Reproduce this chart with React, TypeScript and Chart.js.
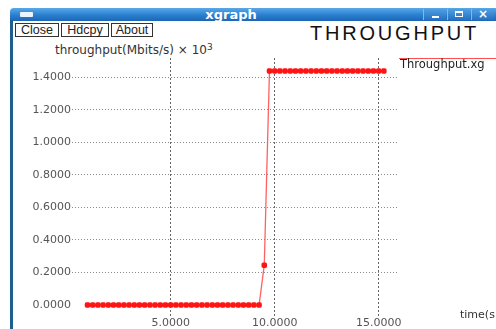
import React, { useEffect, useRef } from "react";
import { Chart, registerables } from "chart.js";

Chart.register(...registerables);

// time (s)
const times = [
  1.0, 1.25, 1.5, 1.75, 2.0, 2.25, 2.5, 2.75, 3.0, 3.25, 3.5, 3.75, 4.0, 4.25, 4.5, 4.75,
  5.0, 5.25, 5.5, 5.75, 6.0, 6.25, 6.5, 6.75, 7.0, 7.25, 7.5, 7.75, 8.0, 8.25, 8.5, 8.75,
  9.0, 9.25, 9.5, 9.75, 10.0, 10.25, 10.5, 10.75, 11.0, 11.25, 11.5, 11.75, 12.0, 12.25,
  12.5, 12.75, 13.0, 13.25, 13.5, 13.75, 14.0, 14.25, 14.5, 14.75, 15.0, 15.25,
];
// throughput (Mbits/s x 10^3)
const throughput = [
  0, 0, 0, 0, 0, 0, 0, 0, 0, 0, 0, 0, 0, 0, 0, 0,
  0, 0, 0, 0, 0, 0, 0, 0, 0, 0, 0, 0, 0, 0, 0, 0,
  0, 0, 0.245, 1.44, 1.44, 1.44, 1.44, 1.44, 1.44, 1.44, 1.44, 1.44, 1.44, 1.44,
  1.44, 1.44, 1.44, 1.44, 1.44, 1.44, 1.44, 1.44, 1.44, 1.44, 1.44, 1.44,
];
const xTicks = [5, 10, 15];
const yTicks = [0, 0.2, 0.4, 0.6, 0.8, 1.0, 1.2, 1.4];

const seriesName = "Throughput.xg";
const titleText = "THROUGHPUT";
const yAxisTitle = "throughput(Mbits/s) \u00d7 10";
const xAxisTitle = "time(s";

const tickFont = { family: "DejaVu Sans", size: 11 };

export default function App() {
  const ref = useRef<HTMLCanvasElement | null>(null);

  useEffect(() => {
    if (!ref.current) return;
    const chart = new Chart(ref.current, {
      type: "line",
      data: {
        datasets: [
          {
            label: seriesName,
            data: times.map((t, i) => ({ x: t, y: throughput[i] })),
            borderColor: "rgba(255,70,70,0.85)",
            borderWidth: 1.3,
            pointBackgroundColor: "#ff1414",
            pointBorderColor: "#ff1414",
            pointBorderWidth: 0,
            pointRadius: 3.2,
            pointStyle: "rectRounded",
            tension: 0,
          },
        ],
      },
      options: {
        animation: false,
        responsive: false,
        maintainAspectRatio: false,
        layout: { padding: { left: 0, top: 58, right: 98, bottom: 0 } },
        plugins: { legend: { display: false }, tooltip: { enabled: false } },
        scales: {
          x: {
            type: "linear",
            min: 0.255,
            max: 15.93,
            afterBuildTicks: (s: any) => {
              s.ticks = xTicks.map((v) => ({ value: v }));
            },
            afterFit: (s: any) => {
              s.height = 12;
            },
            grid: { color: "#666", lineWidth: 1, drawTicks: false },
            border: { display: false, dash: [2, 2] },
            ticks: {
              callback: (v: any) => Number(v).toFixed(4),
              font: tickFont,
              color: "#555",
              padding: 0,
              maxRotation: 0,
              autoSkip: false,
            },
          },
          y: {
            type: "linear",
            min: -0.074,
            max: 1.52,
            afterBuildTicks: (s: any) => {
              s.ticks = yTicks.map((v) => ({ value: v }));
            },
            afterFit: (s: any) => {
              s.width = 72;
            },
            grid: {
              color: (ctx: any) => (ctx.tick && ctx.tick.value === 0 ? "rgba(0,0,0,0)" : "#8a8a8a"),
              lineWidth: 1,
              drawTicks: false,
            },
            border: { display: false, dash: [1, 2] },
            ticks: {
              callback: (v: any) => Number(v).toFixed(4),
              font: tickFont,
              color: "#555",
              padding: 1,
              autoSkip: false,
            },
          },
        },
      },
    });
    return () => chart.destroy();
  }, []);

  const btn = (left: number, width: number, label: string) => (
    <div
      style={{
        position: "absolute",
        left,
        top: 23,
        width,
        height: 14,
        border: "1px solid #333",
        boxSizing: "border-box",
        background: "#fff",
        font: "12.5px 'Liberation Sans', sans-serif",
        lineHeight: "12px",
        textAlign: "center",
        color: "#222",
      }}
    >
      {label}
    </div>
  );

  return (
    <div
      style={{
        position: "fixed",
        left: 0,
        top: 0,
        width: 496,
        height: 329,
        background: "#fff",
        overflow: "hidden",
      }}
    >
      {/* title bar */}
      <div
        style={{
          position: "absolute",
          left: 10,
          top: 8,
          width: 490,
          height: 13,
          borderTopLeftRadius: 4,
          background: "linear-gradient(#5aa8e8, #2a7fd0 55%, #1c66b4)",
        }}
      />
      <div
        style={{
          position: "absolute",
          left: 20,
          top: 12,
          width: 13,
          height: 5,
          background: "#eef4fb",
          borderRadius: 1,
        }}
      />
      <div
        style={{
          position: "absolute",
          left: 180,
          top: 7,
          width: 102,
          textAlign: "center",
          color: "#fff",
          font: "bold 13px 'DejaVu Sans', sans-serif",
          lineHeight: "15px",
        }}
      >
        xgraph
      </div>
      {[423, 447, 471].map((l, i) => (
        <div
          key={l}
          style={{
            position: "absolute",
            left: l,
            top: 9,
            width: 23,
            height: 11,
            background: "linear-gradient(#4f9fe2, #2471c2)",
            borderLeft: "1px solid #7fb8ea",
            boxSizing: "border-box",
          }}
        >
          {i === 0 && (
            <div style={{ position: "absolute", left: 8, top: 7, width: 7, height: 2, background: "#fff" }} />
          )}
          {i === 1 && (
            <div
              style={{
                position: "absolute",
                left: 7,
                top: 2,
                width: 8,
                height: 6,
                border: "1px solid #fff",
                borderTopWidth: 2,
                boxSizing: "border-box",
              }}
            />
          )}
          {i === 2 && (
            <div
              style={{
                position: "absolute",
                left: 0,
                top: -2,
                width: 22,
                textAlign: "center",
                color: "#fff",
                font: "bold 12px 'DejaVu Sans', sans-serif",
              }}
            >
              {"\u00d7"}
            </div>
          )}
        </div>
      ))}
      {/* left window border */}
      <div style={{ position: "absolute", left: 10, top: 20, width: 3, height: 309, background: "#1d5f8f" }} />

      {btn(15, 44, "Close")}
      {btn(61, 48, "Hdcpy")}
      {btn(111, 42, "About")}

      <div
        style={{
          position: "absolute",
          left: 310,
          top: 21,
          font: "20px 'Liberation Sans', sans-serif",
          letterSpacing: "2.8px",
          lineHeight: "24px",
          color: "#111",
          whiteSpace: "nowrap",
        }}
      >
        {titleText}
      </div>

      <div
        style={{
          position: "absolute",
          left: 55,
          top: 40,
          font: "12px 'DejaVu Sans', sans-serif",
          lineHeight: "14px",
          color: "#333",
          whiteSpace: "nowrap",
        }}
      >
        {yAxisTitle}
        <sup style={{ fontSize: "9px", verticalAlign: "4px" }}>3</sup>
      </div>

      <canvas
        ref={ref}
        width={496}
        height={329}
        style={{ position: "absolute", left: 0, top: 0, width: 496, height: 329 }}
      />

      {/* legend */}
      <div style={{ position: "absolute", left: 399, top: 58, width: 97, height: 1, background: "#ff5050" }} />
      <div
        style={{
          position: "absolute",
          left: 400,
          top: 57,
          font: "11.5px 'DejaVu Sans', sans-serif",
          lineHeight: "14px",
          color: "#222",
          whiteSpace: "nowrap",
        }}
      >
        {seriesName}
      </div>

      <div
        style={{
          position: "absolute",
          left: 460,
          top: 308,
          font: "11px 'DejaVu Sans', sans-serif",
          lineHeight: "14px",
          color: "#333",
          whiteSpace: "nowrap",
        }}
      >
        {xAxisTitle}
      </div>
    </div>
  );
}
